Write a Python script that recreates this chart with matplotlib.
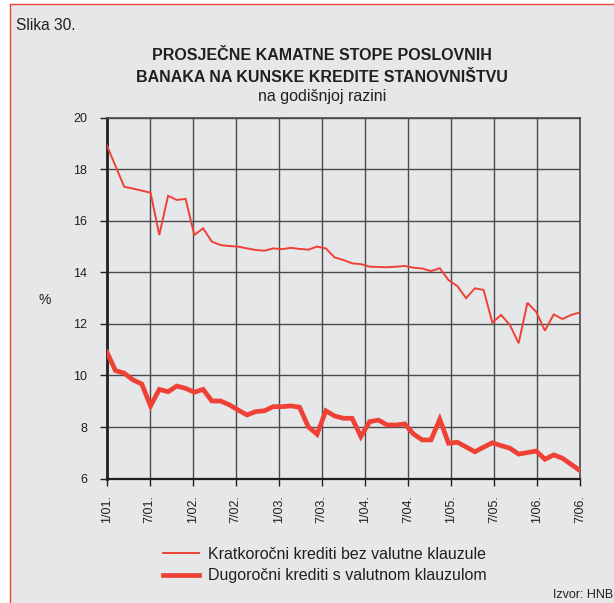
import matplotlib
matplotlib.use("Agg")
import matplotlib.pyplot as plt
from matplotlib.patches import Rectangle
import numpy as np

plt.rcParams['font.family'] = ['Liberation Sans', 'DejaVu Sans']

short_term = [18.94, 18.13, 17.32, 17.25, 17.17, 17.09, 15.45, 16.97, 16.81, 16.85,
              15.45, 15.71, 15.19, 15.06, 15.02, 15.00, 14.93, 14.87, 14.84, 14.93,
              14.90, 14.95, 14.91, 14.88, 15.00, 14.93, 14.58, 14.48, 14.35, 14.32,
              14.22, 14.21, 14.20, 14.22, 14.25, 14.18, 14.15, 14.05, 14.16, 13.70,
              13.47, 13.00, 13.38, 13.32, 12.05, 12.35, 11.96, 11.25, 12.82, 12.47,
              11.74, 12.37, 12.19, 12.35, 12.45]
long_term = [10.92, 10.19, 10.09, 9.83, 9.67, 8.82, 9.46, 9.37, 9.59, 9.50,
             9.35, 9.46, 9.01, 9.01, 8.86, 8.66, 8.47, 8.60, 8.63, 8.79,
             8.79, 8.82, 8.77, 8.01, 7.72, 8.63, 8.43, 8.34, 8.34, 7.63,
             8.21, 8.27, 8.08, 8.08, 8.12, 7.73, 7.50, 7.50, 8.30, 7.37,
             7.41, 7.23, 7.04, 7.22, 7.39, 7.28, 7.18, 6.95, 7.01, 7.07,
             6.75, 6.92, 6.79, 6.55, 6.31]
tick_labels = ['1/01.', '7/01.', '1/02.', '7/02.', '1/03.', '7/03.',
               '1/04.', '7/04.', '1/05.', '7/05.', '1/06.', '7/06.']
y_ticks = [6, 8, 10, 12, 14, 16, 18, 20]
series_names = ['Kratkoročni krediti bez valutne klauzule',
                'Dugoročni krediti s valutnom klauzulom']

BG = '#E6E7E8'
RED = '#EF4136'
TXT = '#231F20'

W, H = 614, 603
fig = plt.figure(figsize=(W / 100, H / 100), dpi=100)
fig.patch.set_facecolor('white')

# grey panel with red frame (extends beyond the crop at right and bottom)
fig.patches.append(Rectangle((9.5 / W, -0.05), 1.1, 1 - 3.5 / H + 0.05,
                             transform=fig.transFigure, facecolor=BG,
                             edgecolor=RED, linewidth=1.0, zorder=-10))

ax = fig.add_axes([106.7 / W, 1 - 478.6 / H, (580 - 106.7) / W, (478.6 - 117.7) / H])
ax.set_facecolor(BG)

x = np.arange(len(short_term))
ax.plot(x, short_term, color=RED, linewidth=1.4, label=series_names[0],
        solid_joinstyle='miter', zorder=3)
ax.plot(x, long_term, color=RED, linewidth=3.4, label=series_names[1],
        solid_joinstyle='miter', zorder=3)

n = len(short_term) - 1
ax.set_xlim(0, n)
ax.set_ylim(6, 20)
ax.set_xticks(np.linspace(0, n, len(tick_labels)))
ax.set_xticklabels(tick_labels, rotation=90, fontsize=9, color=TXT)
ax.set_yticks(y_ticks)
ax.set_yticklabels([str(v) for v in y_ticks], fontsize=9, color=TXT)
ax.tick_params(axis='both', direction='out', length=5, width=1.0, color=TXT)
ax.tick_params(axis='x', pad=7)
ax.tick_params(axis='y', pad=9)

ax.grid(True, color='#4a4a4a', linewidth=1.0)
ax.set_axisbelow(True)
for side in ['top', 'right']:
    ax.spines[side].set_color('#4a4a4a')
    ax.spines[side].set_linewidth(1.2)
ax.spines['left'].set_color(TXT)
ax.spines['left'].set_linewidth(2.0)
ax.spines['bottom'].set_color(TXT)
ax.spines['bottom'].set_linewidth(1.6)

fig.text(44.5 / W, 1 - 300 / H, '%', fontsize=10, color=TXT, ha='center', va='center')

fig.text(16.5 / W, 1 - 26 / H, 'Slika 30.', fontsize=11.2, color=TXT, ha='left', va='center')
fig.text(322 / W, 1 - 55 / H, 'PROSJEČNE KAMATNE STOPE POSLOVNIH', fontsize=11.5,
         fontweight='bold', color=TXT, ha='center', va='center')
fig.text(322 / W, 1 - 77 / H, 'BANAKA NA KUNSKE KREDITE STANOVNIŠTVU', fontsize=11.5,
         fontweight='bold', color=TXT, ha='center', va='center')
fig.text(322 / W, 1 - 97 / H, 'na godišnjoj razini', fontsize=11.5, color=TXT,
         ha='center', va='center')

leg = fig.legend(loc='upper left', bbox_to_anchor=(163 / W, 1 - 547 / H), frameon=False,
                 fontsize=11.5, handlelength=2.25, handletextpad=0.58, labelspacing=0.4,
                 borderaxespad=0, borderpad=0)
for t in leg.get_texts():
    t.set_color(TXT)

fig.text(553 / W, 1 - 595 / H, 'Izvor: HNB', fontsize=9, color=TXT, ha='left', va='center')

fig.savefig('out.png', dpi=100, facecolor=fig.get_facecolor())
